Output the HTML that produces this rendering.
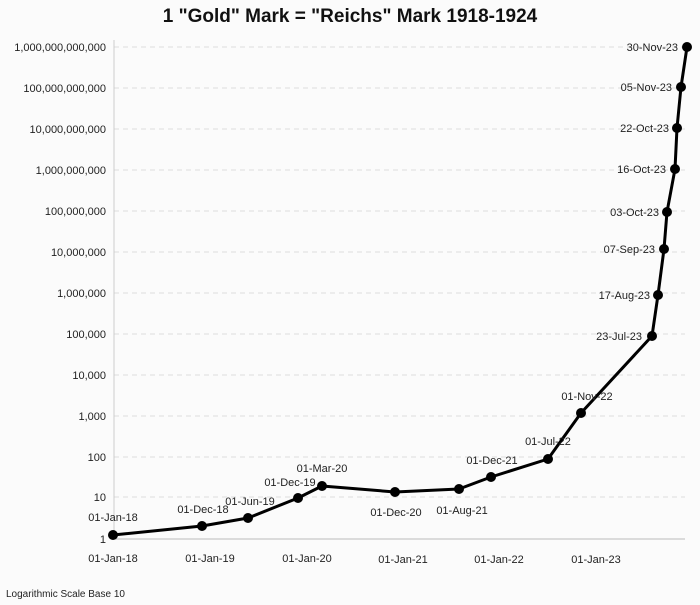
<!DOCTYPE html>
<html><head><meta charset="utf-8"><style>
body{margin:0;background:#fbfbfb;}
svg{display:block;font-family:"Liberation Sans",sans-serif;}
</style></head><body>
<svg width="700" height="605" viewBox="0 0 700 605">
<rect width="700" height="605" fill="#fbfbfb"/>
<text x="350" y="22" text-anchor="middle" font-size="19" font-weight="bold" fill="#111">1 "Gold" Mark = "Reichs" Mark 1918-1924</text>
<g stroke="#ddd" stroke-dasharray="5,4" stroke-width="1">
<line x1="114" y1="497" x2="685" y2="497"/><line x1="114" y1="457" x2="685" y2="457"/>
<line x1="114" y1="416" x2="685" y2="416"/><line x1="114" y1="375" x2="685" y2="375"/>
<line x1="114" y1="334" x2="685" y2="334"/><line x1="114" y1="293" x2="685" y2="293"/>
<line x1="114" y1="252" x2="685" y2="252"/><line x1="114" y1="211" x2="685" y2="211"/>
<line x1="114" y1="170" x2="685" y2="170"/><line x1="114" y1="129" x2="685" y2="129"/>
<line x1="114" y1="88" x2="685" y2="88"/><line x1="114" y1="47" x2="685" y2="47"/>
</g>
<line x1="114" y1="40" x2="114" y2="539" stroke="#ccc"/>
<line x1="114" y1="539" x2="685" y2="539" stroke="#bbb"/>
<g font-size="11" fill="#222" text-anchor="end">
<text x="106" y="543">1</text><text x="106" y="501">10</text><text x="106" y="461">100</text>
<text x="106" y="420">1,000</text><text x="106" y="379">10,000</text><text x="106" y="338">100,000</text>
<text x="106" y="297">1,000,000</text><text x="106" y="256">10,000,000</text><text x="106" y="215">100,000,000</text>
<text x="106" y="174">1,000,000,000</text><text x="106" y="133">10,000,000,000</text><text x="106" y="92">100,000,000,000</text>
<text x="106" y="51">1,000,000,000,000</text>
</g>
<g font-size="11" fill="#222" text-anchor="middle">
<text x="113" y="562">01-Jan-18</text><text x="210" y="562">01-Jan-19</text><text x="307" y="562">01-Jan-20</text>
<text x="403" y="563">01-Jan-21</text><text x="499" y="563">01-Jan-22</text><text x="596" y="563">01-Jan-23</text>
</g>
<text x="6" y="597" font-size="10" fill="#222">Logarithmic Scale Base 10</text>
<polyline fill="none" stroke="#000" stroke-width="3" stroke-linejoin="round" points="113,535 202,526 248,518 298,498 322,486 395,492 459,489 491,477 548,459 581,413 652,336 658,295 664,249 667,212 675,169 677,128 681,87 687,47"/>
<g fill="#000">
<circle cx="113" cy="535" r="5"/><circle cx="202" cy="526" r="5"/><circle cx="248" cy="518" r="5"/>
<circle cx="298" cy="498" r="5"/><circle cx="322" cy="486" r="5"/><circle cx="395" cy="492" r="5"/>
<circle cx="459" cy="489" r="5"/><circle cx="491" cy="477" r="5"/><circle cx="548" cy="459" r="5"/>
<circle cx="581" cy="413" r="5"/><circle cx="652" cy="336" r="5"/><circle cx="658" cy="295" r="5"/>
<circle cx="664" cy="249" r="5"/><circle cx="667" cy="212" r="5"/><circle cx="675" cy="169" r="5"/>
<circle cx="677" cy="128" r="5"/><circle cx="681" cy="87" r="5"/><circle cx="687" cy="47" r="5"/>
</g>
<g font-size="11" fill="#222" text-anchor="middle">
<text x="113" y="521">01-Jan-18</text><text x="203" y="513">01-Dec-18</text><text x="250" y="505">01-Jun-19</text>
<text x="290" y="486">01-Dec-19</text><text x="322" y="472">01-Mar-20</text>
<text x="396" y="516">01-Dec-20</text><text x="462" y="514">01-Aug-21</text>
<text x="492" y="464">01-Dec-21</text><text x="548" y="445">01-Jul-22</text><text x="587" y="400">01-Nov-22</text>
</g>
<g font-size="11" fill="#222" text-anchor="end">
<text x="642" y="340">23-Jul-23</text><text x="650" y="299">17-Aug-23</text><text x="655" y="253">07-Sep-23</text>
<text x="659" y="216">03-Oct-23</text><text x="666" y="173">16-Oct-23</text><text x="669" y="132">22-Oct-23</text>
<text x="672" y="91">05-Nov-23</text><text x="678" y="51">30-Nov-23</text>
</g>
</svg>
</body></html>
